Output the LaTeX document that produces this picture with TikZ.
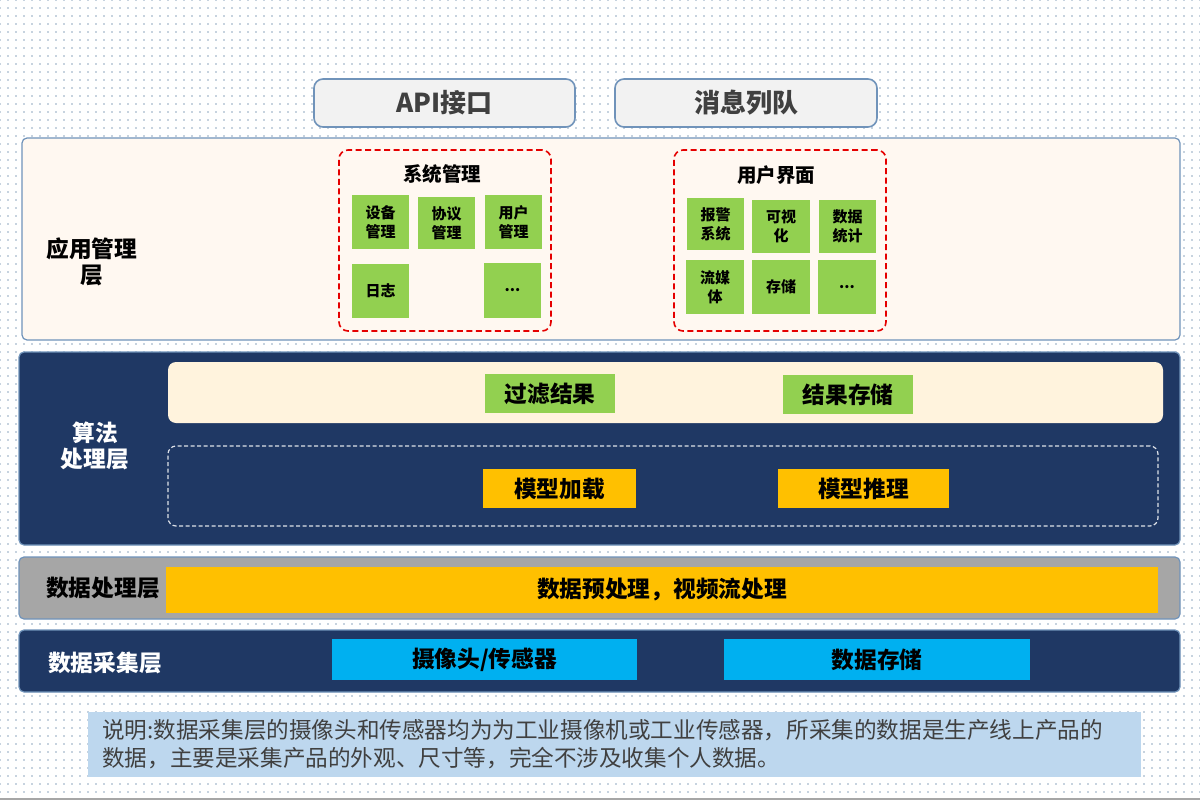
\documentclass[tikz,border=0pt]{standalone}
\usepackage{fontspec}
\newfontfamily\cjk{Noto Sans CJK SC}
\usetikzlibrary{patterns.meta,positioning}

\definecolor{navy}{HTML}{1F3864}
\definecolor{edgeblue}{HTML}{7093BA}
\definecolor{appcream}{HTML}{FFF8F1}
\definecolor{rescream}{HTML}{FFF3DD}
\definecolor{leaf}{HTML}{92D050}
\definecolor{amber}{HTML}{FFC000}
\definecolor{sky}{HTML}{00B0F0}
\definecolor{notebg}{HTML}{BDD7EE}
\definecolor{dotc}{HTML}{8FA6C0}
\definecolor{graybar}{HTML}{A6A6A6}
\definecolor{apifill}{HTML}{F2F2F2}
\definecolor{inkgray}{HTML}{404040}

\tikzset{
  layer/.style={draw=edgeblue, line width=1.2pt, rounded corners=5pt, inner sep=0pt},
  topbox/.style={draw=edgeblue, line width=1.6pt, fill=apifill, rounded corners=9pt,
    text=inkgray, font=\cjk\bfseries\fontsize{26}{28}\selectfont},
  redframe/.style={draw=red!90!black, line width=1.6pt, rounded corners=9pt,
    dash pattern=on 6pt off 3.5pt},
  leafbox/.style={fill=leaf, inner sep=0pt, align=center,
    font=\cjk\bfseries\fontsize{15}{19}\selectfont},
  bigbox/.style={inner sep=0pt, align=center, font=\cjk\bfseries\fontsize{22.7}{25}\selectfont},
  layertext/.style={align=center, font=\cjk\bfseries\fontsize{22.7}{26}\selectfont},
  frametitle/.style={font=\cjk\bfseries\fontsize{19.5}{22}\selectfont}
}

\begin{document}
\begin{tikzpicture}[x=1pt, y=-1pt]
  \useasboundingbox (0,0) rectangle (1200,800);
  % dotted page
  \fill[white] (0,0) rectangle (1200,800);
  \fill[pattern={Dots[distance=8pt, radius=0.8pt]}, pattern color=dotc] (0,0) rectangle (1200,800);
  \draw[gray!70, line width=1.5pt] (0,799) -- (1200,799);

  % top interfaces
  \node[topbox, minimum width=261pt, minimum height=48pt] (api) at (444.5,103) {API接口};
  \node[topbox, minimum width=262pt, minimum height=48pt] (mq) at (746,103) {消息列队};

  % application layer
  \node[layer, fill=appcream, minimum width=1158pt, minimum height=202pt] (applayer) at (601,239) {};
  \node[layertext] (applabel) at (92,262) {应用管理\\层};

  \node[redframe, minimum width=212pt, minimum height=181pt] (sysframe) at (445,240.5) {};
  \node[frametitle] (systitle) at (442,174) {系统管理};
  \node[leafbox, minimum width=57pt, minimum height=54pt] (devmgr) at (380.5,222) {设备\\管理};
  \node[leafbox, minimum width=57pt, minimum height=52pt] (protomgr) at (446.5,223) {协议\\管理};
  \node[leafbox, minimum width=57pt, minimum height=54pt] (usermgr) at (513.5,222) {用户\\管理};
  \node[leafbox, minimum width=57pt, minimum height=54pt] (logbox) at (380.5,291) {日志};
  \node[leafbox, minimum width=57pt, minimum height=55pt] (sysmore) at (512.5,290.5) {...};

  \node[redframe, minimum width=212pt, minimum height=181pt] (uiframe) at (780,240.5) {};
  \node[frametitle] (uititle) at (776,175) {用户界面};
  \node[leafbox, minimum width=57pt, minimum height=52pt] (alarm) at (715.5,224) {报警\\系统};
  \node[leafbox, minimum width=58pt, minimum height=53pt] (visual) at (781,226.5) {可视\\化};
  \node[leafbox, minimum width=57pt, minimum height=53pt] (stats) at (847.5,226.5) {数据\\统计};
  \node[leafbox, minimum width=58pt, minimum height=54pt] (media) at (715,287) {流媒\\体};
  \node[leafbox, minimum width=58pt, minimum height=54pt] (store) at (781,287) {存储};
  \node[leafbox, minimum width=58pt, minimum height=54pt] (uimore) at (847,287) {...};

  % algorithm layer
  \node[layer, fill=navy, minimum width=1161pt, minimum height=193pt] (algolayer) at (599.5,448.5) {};
  \node[layertext, text=white] (algolabel) at (95,446) {算法\\处理层};
  \node[fill=rescream, rounded corners=8pt, minimum width=995pt, minimum height=61pt] (respanel) at (665.5,392.5) {};
  \node[bigbox, fill=leaf, minimum width=130pt, minimum height=39pt] (filter) at (550,393.5) {过滤结果};
  \node[bigbox, fill=leaf, minimum width=130pt, minimum height=39pt] (resstore) at (848,394.5) {结果存储};
  \node[draw=white!85!navy, line width=1.2pt, dash pattern=on 4pt off 2.5pt, rounded corners=8pt,
    minimum width=990pt, minimum height=80pt] (modelpanel) at (663,486) {};
  \node[bigbox, fill=amber, minimum width=153pt, minimum height=39pt] (mload) at (559.5,488.5) {模型加载};
  \node[bigbox, fill=amber, minimum width=171pt, minimum height=39pt] (minfer) at (863.5,488.5) {模型推理};

  % data processing layer
  \node[layer, fill=graybar, minimum width=1161pt, minimum height=62pt] (proclayer) at (599.5,588) {};
  \node[layertext] (proclabel) at (103,588) {数据处理层};
  \node[bigbox, fill=amber, minimum width=992pt, minimum height=46pt] (prebar) at (662,590) {数据预处理，视频流处理};

  % data collection layer
  \node[layer, fill=navy, minimum width=1161pt, minimum height=62pt] (collayer) at (599.5,661) {};
  \node[layertext, text=white] (collabel) at (105,663) {数据采集层};
  \node[bigbox, fill=sky, minimum width=305pt, minimum height=41pt] (camera) at (484.5,659.5) {摄像头/传感器};
  \node[bigbox, fill=sky, minimum width=306pt, minimum height=41pt] (diskstore) at (877,659.5) {数据存储};

  % note
  \node[fill=notebg, minimum width=1053pt, minimum height=65pt] (notebox) at (614.5,744.5) {};
  \node[anchor=west, align=left, text=inkgray, inner sep=0pt,
    font=\cjk\fontsize{22.6}{28}\selectfont] (notetext) at (102,744.5)
    {说明:数据采集层的摄像头和传感器均为为工业摄像机或工业传感器，所采集的数据是生产线上产品的\\数据，主要是采集产品的外观、尺寸等，完全不涉及收集个人数据。};
\end{tikzpicture}
\end{document}
